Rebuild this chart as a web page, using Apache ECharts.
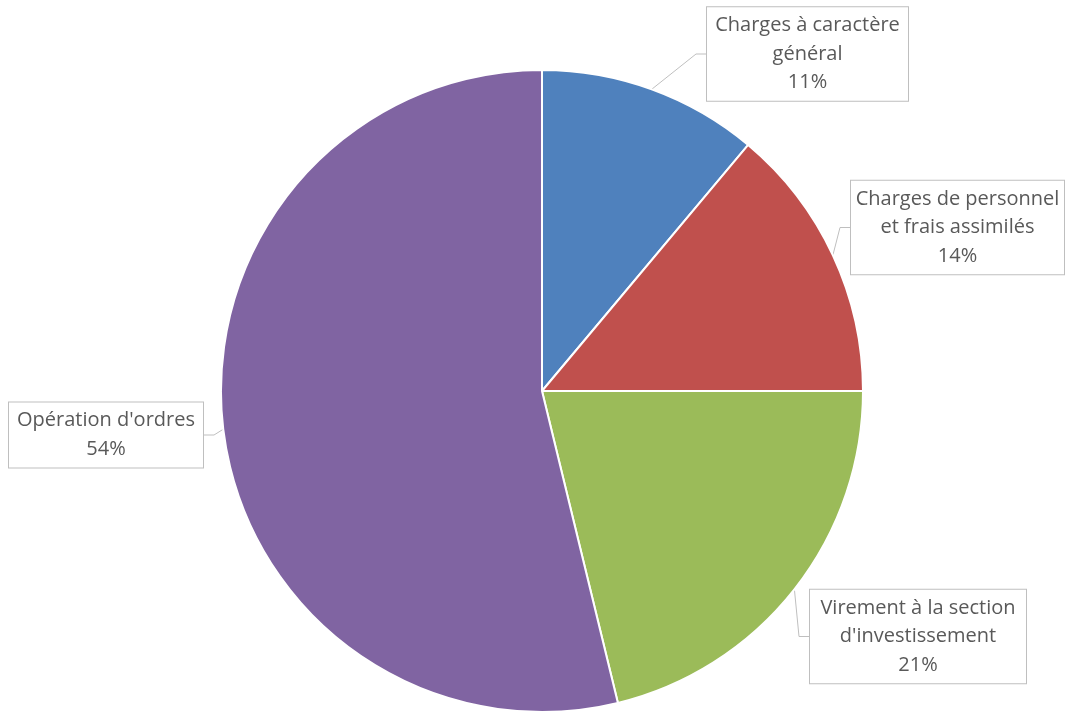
<!DOCTYPE html>
<html><head><meta charset="utf-8">
<script src="https://cdn.jsdelivr.net/npm/echarts@6/dist/echarts.min.js"></script>
<style>html,body{margin:0;padding:0;background:#fff}#c{width:1069px;height:713px}</style>
</head><body><div id="c"></div>
<script>
const categories = ["Charges à caractère général","Charges de personnel et frais assimilés","Virement à la section d'investissement","Opération d'ordres"];
const wrappedNames = ["Charges à caractère\ngénéral","Charges de personnel\net frais assimilés","Virement à la section\nd'investissement","Opération d'ordres"];
const values = [11.1, 13.9, 21.2, 53.8];
const colors = ['#4F81BD','#C0504D','#9BBB59','#8064A2'];
const labelBoxes = [
  {x:807.5, y:54, w:193},
  {x:957.5, y:227.5, w:205},
  {x:918, y:636.5, w:208},
  {x:106, y:435, w:186}
];
const chart = echarts.init(document.getElementById('c'));
chart.setOption({
  animation:false,
  series:[{
    type:'pie',
    center:[542,391],
    radius:321,
    startAngle:90,
    clockwise:true,
    itemStyle:{borderColor:'#fff',borderWidth:2},
    data: categories.map((n,i)=>({name:n,value:values[i],itemStyle:{color:colors[i]},label:{width:labelBoxes[i].w}})),
    label:{
      show:true,
      formatter:p=>wrappedNames[p.dataIndex]+'\n'+Math.round(p.percent)+'%',
      fontFamily:'Open Sans',
      fontSize:20,
      lineHeight:28.5,
      color:'#595959',
      align:'center',
      overflow:'none',
      backgroundColor:'#fff',
      borderColor:'#bfbfbf',
      borderWidth:1,
      padding:[4,4]
    },
    labelLine:{show:true,length:10,length2:10,lineStyle:{color:'#bfbfbf',width:1}},
    labelLayout:function(p){
      const b = labelBoxes[p.dataIndex];
      return {x:b.x,y:b.y,align:'center',verticalAlign:'middle'};
    }
  }]
});
</script></body></html>
